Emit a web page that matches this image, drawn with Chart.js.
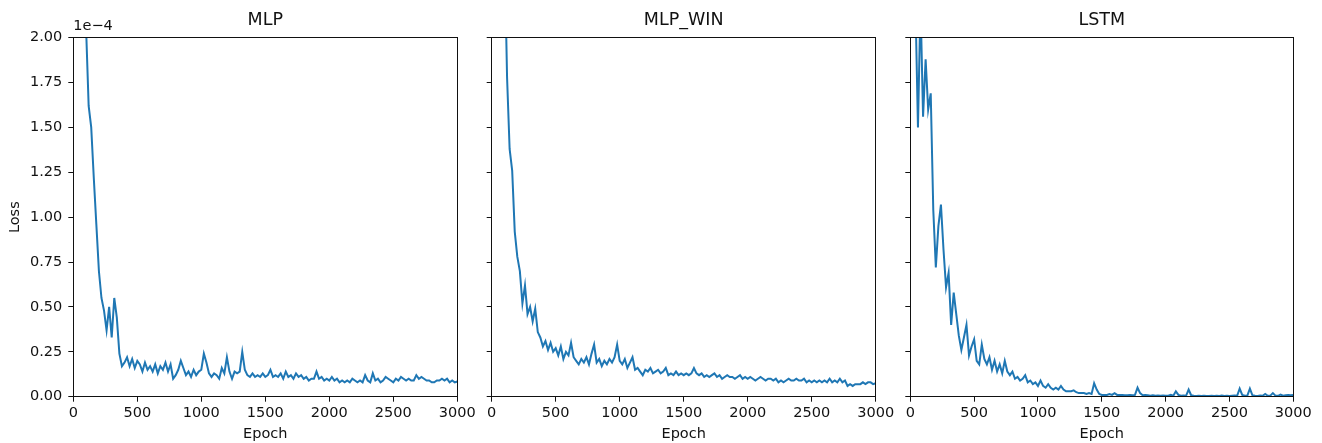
<!DOCTYPE html>
<html>
<head>
<meta charset="utf-8">
<title>Loss curves</title>
<script src="https://cdn.jsdelivr.net/npm/chart.js@4.4.1/dist/chart.umd.min.js"></script>
<style>
  html, body { margin: 0; padding: 0; background: #fff; }
  #wrap { position: relative; width: 1322px; height: 443px; overflow: hidden; }
  #wrap canvas { position: absolute; left: 0; top: 0; }
</style>
</head>
<body>
<div id="wrap">
  <canvas id="cMlp" width="1322" height="443"></canvas>
  <canvas id="cWin" width="1322" height="443"></canvas>
  <canvas id="cLstm" width="1322" height="443"></canvas>
</div>
<script>
// ── Data (loss values in units of 1e-4) ──────────────────────
var epochs = [
  0, 20, 40, 60, 80, 100, 120, 140, 160, 180,
  200, 220, 240, 260, 280, 300, 320, 340, 360, 380,
  400, 420, 440, 460, 480, 500, 520, 540, 560, 580,
  600, 620, 640, 660, 680, 700, 720, 740, 760, 780,
  800, 820, 840, 860, 880, 900, 920, 940, 960, 980,
  1000, 1020, 1040, 1060, 1080, 1100, 1120, 1140, 1160, 1180,
  1200, 1220, 1240, 1260, 1280, 1300, 1320, 1340, 1360, 1380,
  1400, 1420, 1440, 1460, 1480, 1500, 1520, 1540, 1560, 1580,
  1600, 1620, 1640, 1660, 1680, 1700, 1720, 1740, 1760, 1780,
  1800, 1820, 1840, 1860, 1880, 1900, 1920, 1940, 1960, 1980,
  2000, 2020, 2040, 2060, 2080, 2100, 2120, 2140, 2160, 2180,
  2200, 2220, 2240, 2260, 2280, 2300, 2320, 2340, 2360, 2380,
  2400, 2420, 2440, 2460, 2480, 2500, 2520, 2540, 2560, 2580,
  2600, 2620, 2640, 2660, 2680, 2700, 2720, 2740, 2760, 2780,
  2800, 2820, 2840, 2860, 2880, 2900, 2920, 2940, 2960, 2980,
  3000
];

var lossMlp = [
  9.0, 6.6, 4.9, 3.7, 2.8, 2.05, 1.62, 1.50, 1.22, 0.96,
  0.70, 0.55, 0.48, 0.37, 0.50, 0.33, 0.55, 0.44, 0.24, 0.17,
  0.19, 0.22, 0.17, 0.21, 0.16, 0.20, 0.18, 0.14, 0.19, 0.15,
  0.17, 0.14, 0.18, 0.13, 0.17, 0.15, 0.19, 0.14, 0.18, 0.10,
  0.12, 0.15, 0.20, 0.16, 0.12, 0.14, 0.11, 0.15, 0.12, 0.14,
  0.15, 0.24, 0.19, 0.13, 0.11, 0.13, 0.12, 0.10, 0.16, 0.13,
  0.22, 0.14, 0.10, 0.14, 0.13, 0.14, 0.25, 0.15, 0.12, 0.11,
  0.13, 0.11, 0.12, 0.11, 0.13, 0.11, 0.12, 0.15, 0.11, 0.12,
  0.11, 0.13, 0.10, 0.14, 0.11, 0.12, 0.10, 0.13, 0.11, 0.12,
  0.10, 0.11, 0.09, 0.10, 0.10, 0.14, 0.10, 0.11, 0.09, 0.10,
  0.09, 0.11, 0.09, 0.10, 0.08, 0.09, 0.08, 0.09, 0.08, 0.10,
  0.09, 0.08, 0.09, 0.08, 0.12, 0.09, 0.08, 0.13, 0.09, 0.10,
  0.08, 0.09, 0.11, 0.10, 0.09, 0.08, 0.10, 0.09, 0.11, 0.10,
  0.09, 0.10, 0.09, 0.09, 0.12, 0.10, 0.11, 0.10, 0.09, 0.09,
  0.08, 0.08, 0.09, 0.09, 0.10, 0.09, 0.10, 0.08, 0.09, 0.08,
  0.085
];

var lossMlpWin = [
  12.0, 9.0, 7.0, 5.0, 3.6, 2.5, 1.78, 1.38, 1.26, 0.92,
  0.78, 0.70, 0.52, 0.62, 0.46, 0.50, 0.42, 0.49, 0.36, 0.33,
  0.28, 0.31, 0.26, 0.30, 0.25, 0.27, 0.23, 0.28, 0.21, 0.25,
  0.23, 0.30, 0.22, 0.20, 0.18, 0.21, 0.19, 0.22, 0.18, 0.24,
  0.29, 0.19, 0.21, 0.17, 0.20, 0.18, 0.21, 0.19, 0.22, 0.29,
  0.20, 0.18, 0.21, 0.16, 0.19, 0.22, 0.15, 0.16, 0.14, 0.12,
  0.15, 0.14, 0.16, 0.13, 0.14, 0.15, 0.13, 0.14, 0.16, 0.12,
  0.13, 0.12, 0.14, 0.12, 0.13, 0.12, 0.13, 0.12, 0.13, 0.16,
  0.13, 0.12, 0.13, 0.11, 0.12, 0.11, 0.12, 0.13, 0.11, 0.12,
  0.10, 0.11, 0.12, 0.11, 0.11, 0.10, 0.11, 0.12, 0.10, 0.11,
  0.10, 0.11, 0.10, 0.09, 0.10, 0.11, 0.10, 0.09, 0.10, 0.10,
  0.09, 0.10, 0.08, 0.09, 0.08, 0.09, 0.10, 0.09, 0.09, 0.10,
  0.09, 0.09, 0.10, 0.08, 0.09, 0.08, 0.09, 0.08, 0.09, 0.08,
  0.09, 0.08, 0.10, 0.08, 0.09, 0.08, 0.10, 0.08, 0.09, 0.06,
  0.07, 0.06, 0.07, 0.07, 0.07, 0.08, 0.07, 0.08, 0.08, 0.07,
  0.075
];

var lossLstm = [
  4.5, 3.0, 2.2, 1.50, 2.2, 1.56, 1.88, 1.60, 1.69, 1.04,
  0.72, 0.95, 1.07, 0.82, 0.61, 0.69, 0.40, 0.58, 0.46, 0.34,
  0.26, 0.33, 0.40, 0.23, 0.28, 0.32, 0.20, 0.18, 0.29, 0.21,
  0.18, 0.22, 0.15, 0.20, 0.14, 0.18, 0.13, 0.20, 0.14, 0.12,
  0.14, 0.10, 0.11, 0.09, 0.10, 0.12, 0.08, 0.09, 0.07, 0.08,
  0.06, 0.09, 0.06, 0.05, 0.07, 0.05, 0.04, 0.05, 0.04, 0.06,
  0.04, 0.03, 0.03, 0.03, 0.035, 0.025, 0.02, 0.02, 0.02, 0.015,
  0.02, 0.015, 0.075, 0.04, 0.015, 0.01, 0.01, 0.01, 0.015, 0.01,
  0.02, 0.01, 0.01, 0.01, 0.008, 0.008, 0.01, 0.008, 0.01, 0.05,
  0.02, 0.008, 0.01, 0.008, 0.005, 0.008, 0.005, 0.006, 0.005, 0.006,
  0.005, 0.006, 0.01, 0.005, 0.03, 0.01, 0.005, 0.006, 0.005, 0.04,
  0.008, 0.005, 0.004, 0.005, 0.004, 0.005, 0.004, 0.004, 0.005, 0.004,
  0.005, 0.004, 0.006, 0.004, 0.005, 0.004, 0.005, 0.006, 0.005, 0.045,
  0.01, 0.005, 0.006, 0.045, 0.008, 0.005, 0.004, 0.006, 0.005, 0.015,
  0.005, 0.006, 0.02, 0.006, 0.005, 0.012, 0.006, 0.008, 0.01, 0.008,
  0.01
];

var panelTitles = ['MLP', 'MLP_WIN', 'LSTM'];
var xTickStep = 500;
var yTickStep = 0.25;
var exponentLabel = '1e\u22124';

// ── Styles ───────────────────────────────────────────────────
var FONT = 'DejaVu Sans';
var INK = '#111';
var LINE = '#1f77b4';
var W = 1322;
var TICK_PX = 14.5;

// panel edges in page pixels: [left, right]
var panelEdges = [[73.3, 457.3], [491.7, 875.7], [910.3, 1293.3]];

// ── Frame (top + right spines) and exponent label ────────────
var framePlugin = {
  id: 'frame',
  afterDraw: function(chart) {
    var a = chart.chartArea, ctx = chart.ctx;
    var l = Math.floor(a.left) + 0.5, t = Math.floor(a.top) + 0.5;
    var r = Math.floor(a.right) + 0.5, b = Math.floor(a.bottom) + 0.5;
    ctx.save();
    ctx.strokeStyle = INK;
    ctx.lineWidth = 1;
    ctx.strokeRect(l, t, r - l, b - t);
    var opts = chart.options.plugins.frame || {};
    if (opts.exponent) {
      ctx.fillStyle = INK;
      ctx.font = TICK_PX + 'px "' + FONT + '"';
      ctx.textAlign = 'left';
      ctx.textBaseline = 'bottom';
      ctx.fillText(opts.exponent, a.left, a.top - 4);
    }
    ctx.restore();
  }
};

function toPoints(xs, ys) {
  return xs.map(function(x, i) { return { x: x, y: ys[i] }; });
}

// ── Panel builder ────────────────────────────────────────────
function mkPanel(id, idx, values) {
  var first = idx === 0;
  var edges = panelEdges[idx];
  var yWidth = first ? edges[0] : 10;

  return new Chart(document.getElementById(id), {
    type: 'line',
    data: {
      datasets: [{
        data: toPoints(epochs, values),
        borderColor: LINE,
        borderWidth: 2,
        pointRadius: 0,
        tension: 0,
        fill: false,
        clip: 0
      }]
    },
    options: {
      responsive: false,
      animation: false,
      devicePixelRatio: 1,
      events: [],
      layout: {
        padding: { left: edges[0] - yWidth, right: W - edges[1], top: 0, bottom: 0 }
      },
      plugins: {
        legend: { display: false },
        tooltip: { enabled: false },
        title: {
          display: true,
          text: panelTitles[idx],
          fullSize: false,
          color: INK,
          font: { family: FONT, size: 17.5, weight: 'normal' },
          padding: { top: 10, bottom: 6.7 }
        },
        frame: { exponent: first ? exponentLabel : null }
      },
      scales: {
        x: {
          type: 'linear',
          min: 0, max: 3000,
          afterFit: function(s) { s.height = 46.3; },
          grid: { drawOnChartArea: false, drawTicks: true, tickLength: 5, color: INK },
          border: { display: true, color: INK, width: 1 },
          ticks: {
            stepSize: xTickStep, color: INK, padding: 3, maxRotation: 0,
            font: { family: FONT, size: TICK_PX },
            callback: function(v) { return String(v); }
          },
          title: {
            display: true, text: 'Epoch', color: INK,
            font: { family: FONT, size: TICK_PX },
            padding: { top: 0, bottom: 0 }
          }
        },
        y: {
          type: 'linear',
          min: 0, max: 2,
          afterFit: function(s) { s.width = yWidth; },
          grid: { drawOnChartArea: false, drawTicks: true, tickLength: 5, color: INK },
          border: { display: true, color: INK, width: 1 },
          ticks: {
            display: first, stepSize: yTickStep, color: INK, padding: 6,
            font: { family: FONT, size: TICK_PX },
            callback: function(v) { return v.toFixed(2); }
          },
          title: {
            display: first, text: 'Loss', color: INK,
            font: { family: FONT, size: TICK_PX },
            padding: { top: 7, bottom: 0 }
          }
        }
      }
    },
    plugins: [framePlugin]
  });
}

mkPanel('cMlp', 0, lossMlp);
mkPanel('cWin', 1, lossMlpWin);
mkPanel('cLstm', 2, lossLstm);
</script>
</body>
</html>
